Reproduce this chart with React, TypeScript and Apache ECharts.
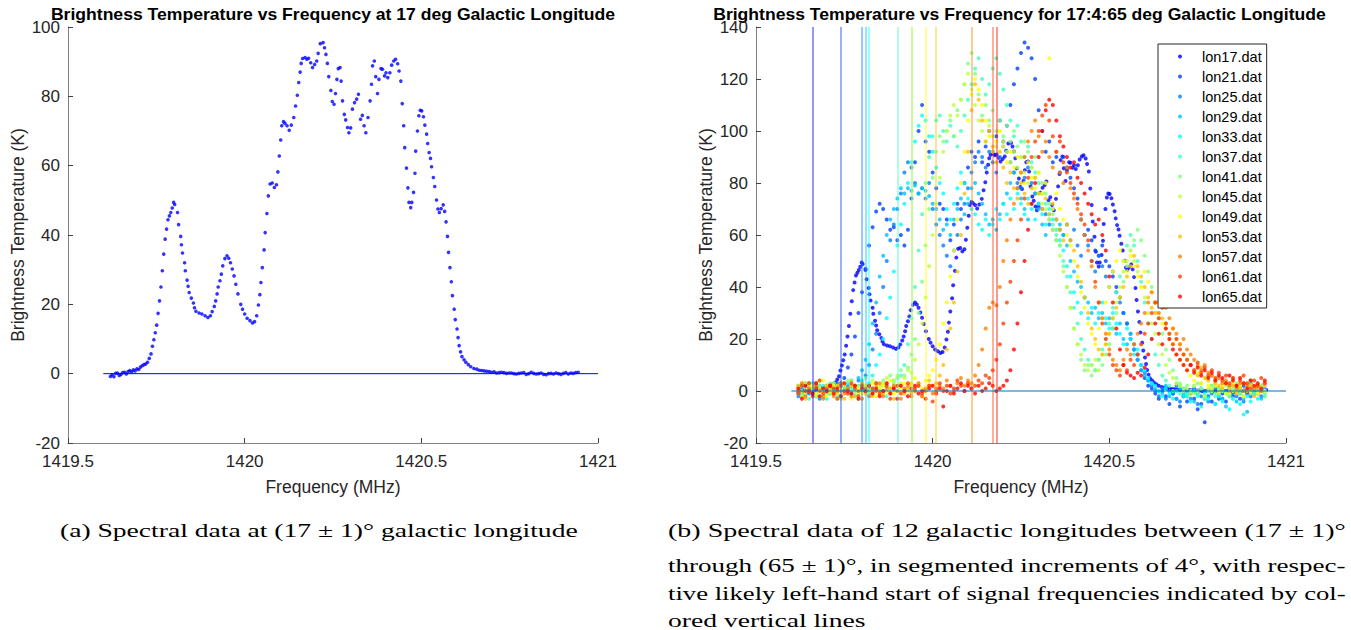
import { useEffect, useRef } from 'react';
import * as echarts from 'echarts';

// ---------------- DATA ----------------
// lon17 (used in panel a and as first series of panel b)
const lon17Freq = [
  1419.62, 1419.625, 1419.63, 1419.635, 1419.64, 1419.645, 1419.65, 1419.655, 1419.66, 1419.665,
  1419.67, 1419.675, 1419.68, 1419.685, 1419.69, 1419.695, 1419.7, 1419.705, 1419.71, 1419.715,
  1419.72, 1419.725, 1419.73,
  1419.735, 1419.739, 1419.743, 1419.747, 1419.751, 1419.755, 1419.759, 1419.763, 1419.767, 1419.771,
  1419.775, 1419.779, 1419.783, 1419.787, 1419.791, 1419.795, 1419.799, 1419.802,
  1419.81, 1419.813, 1419.819, 1419.821, 1419.824, 1419.83, 1419.832, 1419.837, 1419.84, 1419.843,
  1419.849, 1419.855, 1419.858, 1419.862, 1419.871, 1419.879, 1419.888, 1419.896, 1419.903, 1419.908,
  1419.914, 1419.918, 1419.922, 1419.925, 1419.93, 1419.934, 1419.938, 1419.944, 1419.95, 1419.955,
  1419.96, 1419.965, 1419.97, 1419.975, 1419.981, 1419.989, 1419.994, 1420.0, 1420.007, 1420.015,
  1420.022, 1420.028, 1420.034, 1420.039, 1420.043, 1420.046, 1420.05, 1420.055, 1420.058, 1420.063,
  1420.067, 1420.072, 1420.078, 1420.084, 1420.09, 1420.094, 1420.098, 1420.102, 1420.105, 1420.11,
  1420.114, 1420.12, 1420.126, 1420.132, 1420.139, 1420.144, 1420.149, 1420.153, 1420.157, 1420.16,
  1420.164, 1420.171, 1420.176, 1420.181, 1420.187, 1420.192, 1420.198, 1420.204, 1420.208, 1420.214,
  1420.222, 1420.226, 1420.23, 1420.234, 1420.238, 1420.244, 1420.248, 1420.253, 1420.257, 1420.261,
  1420.265, 1420.27, 1420.273, 1420.277, 1420.282, 1420.286, 1420.291, 1420.295, 1420.3, 1420.305,
  1420.311, 1420.317, 1420.322, 1420.328, 1420.333, 1420.338, 1420.343, 1420.349, 1420.355, 1420.359,
  1420.362, 1420.367, 1420.371, 1420.376, 1420.38, 1420.386, 1420.39, 1420.396, 1420.4, 1420.405,
  1420.411, 1420.416, 1420.422, 1420.427, 1420.433, 1420.437, 1420.442, 1420.446, 1420.45, 1420.453,
  1420.458, 1420.462, 1420.465, 1420.47, 1420.473, 1420.478, 1420.482, 1420.484, 1420.489, 1420.493,
  1420.497, 1420.501, 1420.506, 1420.51, 1420.515, 1420.518, 1420.522, 1420.526, 1420.529, 1420.534,
  1420.538, 1420.543, 1420.547, 1420.551, 1420.556, 1420.562, 1420.566, 1420.57, 1420.574, 1420.577,
  1420.581, 1420.585, 1420.588, 1420.593, 1420.596, 1420.601, 1420.604, 1420.607, 1420.611, 1420.615,
  1420.621, 1420.626, 1420.633, 1420.64, 1420.649, 1420.657,
  1420.664, 1420.671, 1420.678, 1420.685, 1420.692, 1420.699, 1420.706, 1420.713, 1420.72, 1420.727,
  1420.734, 1420.741, 1420.748, 1420.755, 1420.762, 1420.769, 1420.776, 1420.783, 1420.79, 1420.797,
  1420.804, 1420.811, 1420.818, 1420.825, 1420.832, 1420.839, 1420.846, 1420.853, 1420.86, 1420.867,
  1420.874, 1420.881, 1420.888, 1420.895, 1420.902, 1420.909, 1420.916, 1420.923, 1420.93, 1420.937,
  1420.944,
];
const lon17Temp = [
  -0.8, -0.3, -0.9, 0.1, 0.2, -0.5, -0.2, 0.3, 0.4, -0.1,
  0.6, 0.9, 0.5, 1.1, 0.8, 1.4, 1.2, 1.9, 2.3, 2.6,
  2.8, 3.3, 4.4,
  5.7, 7.9, 9.8, 11.8, 14.0, 17.4, 21.0, 25.0, 29.7, 34.5,
  38.8, 41.7, 44.4, 45.5, 46.5, 47.8, 49.4, 48.8,
  46.5, 43.0, 39.6, 37.2, 34.8, 32.0, 29.7, 27.0, 25.2, 23.4,
  21.8, 20.4, 19.0, 18.0, 17.5, 17.2, 16.7, 16.2, 16.7, 17.9,
  19.4, 21.0, 23.0, 25.0, 26.8, 28.7, 31.1, 33.2, 34.0, 33.3,
  32.0, 30.2, 28.2, 25.8, 23.0, 20.0, 18.6, 17.2, 16.0, 15.3,
  14.6, 15.0, 16.7, 19.8, 22.8, 26.3, 30.6, 35.7, 40.7, 46.2,
  51.3, 54.7, 55.0, 53.7, 54.5, 58.2, 62.8, 67.4, 71.5, 72.7,
  72.2, 71.5, 70.2, 71.7, 73.9, 77.2, 80.3, 84.0, 87.0, 89.5,
  90.9, 91.2, 90.7, 91.0, 89.7, 88.3, 89.2, 90.2, 92.4, 95.2,
  95.5, 94.0, 92.1, 89.5, 85.7, 81.7, 78.5, 77.7, 80.8, 84.9,
  88.0, 88.3, 84.4, 78.7, 74.8, 73.2, 71.0, 69.5, 70.9, 76.3,
  78.2, 79.2, 80.6, 73.4, 74.5, 71.5, 69.5, 73.9, 78.7, 83.5,
  88.8, 90.2, 85.7, 80.8, 84.9, 88.0, 87.8, 85.9, 86.8, 85.4,
  86.8, 89.0, 90.2, 90.7, 89.4, 87.3, 84.4, 77.9, 71.5, 65.2,
  59.3, 53.6, 49.4, 47.9, 49.4, 52.3, 57.8, 64.2, 70.0, 74.4,
  76.0, 75.8, 74.1, 71.7, 69.1, 66.4, 63.8, 62.1, 59.7, 56.6,
  54.0, 50.1, 47.5, 46.5, 47.6, 48.7, 46.8, 43.8, 39.6, 35.0,
  30.6, 26.5, 22.5, 18.6, 15.6, 12.9, 10.4, 8.1, 6.3, 4.9,
  4.0, 3.3, 2.6, 2.0, 1.5, 1.3,
  1.0, 0.9, 0.8, 0.7, 0.6, 0.4, 0.5, 0.2, 0.3, 0.4,
  0.3, 0.1, 0.2, 0.2, 0.0, -0.1, 0.1, 0.2, 0.3, -0.2,
  0.0, 0.4, 0.1, -0.1, 0.0, 0.2, -0.2, -0.3, 0.0, 0.1,
  -0.1, 0.2, 0.0, -0.2, 0.1, 0.3, -0.1, 0.2, 0.1, 0.3,
  0.4,
];

// channel frequencies shared by the other longitudes (MHz)
const channelFreq = [
  1419.62, 1419.63, 1419.64, 1419.65, 1419.66, 1419.67, 1419.68, 1419.69, 1419.7, 1419.71,
  1419.72, 1419.73, 1419.74, 1419.75, 1419.76, 1419.77, 1419.78, 1419.79, 1419.8, 1419.81,
  1419.82, 1419.83, 1419.84, 1419.85, 1419.86, 1419.87, 1419.88, 1419.89, 1419.9, 1419.91,
  1419.92, 1419.93, 1419.94, 1419.95, 1419.96, 1419.97, 1419.98, 1419.99, 1420.0, 1420.01,
  1420.02, 1420.03, 1420.04, 1420.05, 1420.06, 1420.07, 1420.08, 1420.09, 1420.1, 1420.11,
  1420.12, 1420.13, 1420.14, 1420.15, 1420.16, 1420.17, 1420.18, 1420.19, 1420.2, 1420.21,
  1420.22, 1420.23, 1420.24, 1420.25, 1420.26, 1420.27, 1420.28, 1420.29, 1420.3, 1420.31,
  1420.32, 1420.33, 1420.34, 1420.35, 1420.36, 1420.37, 1420.38, 1420.39, 1420.4, 1420.41,
  1420.42, 1420.43, 1420.44, 1420.45, 1420.46, 1420.47, 1420.48, 1420.49, 1420.5, 1420.51,
  1420.52, 1420.53, 1420.54, 1420.55, 1420.56, 1420.57, 1420.58, 1420.59, 1420.6, 1420.61,
  1420.62, 1420.63, 1420.64, 1420.65, 1420.66, 1420.67, 1420.68, 1420.69, 1420.7, 1420.71,
  1420.72, 1420.73, 1420.74, 1420.75, 1420.76, 1420.77, 1420.78, 1420.79, 1420.8, 1420.81,
  1420.82, 1420.83, 1420.84, 1420.85, 1420.86, 1420.87, 1420.88, 1420.89, 1420.9, 1420.91,
  1420.92, 1420.93, 1420.94,
];

const lon21Temp = [
  1, -2, 2, 0, -1, 3, 1, -2, 0, 2,
  1, -1, 3, 5, 9, 14, 21, 30, 38, 47,
  56, 63, 69, 72, 70, 66, 62, 63, 58, 60,
  56, 62, 74, 88, 100, 110, 96, 92, 84, 78,
  72, 70, 66, 58, 64, 72, 70, 80, 86, 92,
  90, 96, 88, 94, 100, 92, 98, 104, 96, 102,
  110, 118, 124, 130, 134, 132, 128, 120, 108, 100,
  92, 96, 88, 90, 84, 90, 86, 82, 78, 74,
  66, 60, 62, 58, 54, 52, 56, 50, 48, 44,
  40, 36, 30, 26, 20, 16, 12, 8, 5, 2,
  1, -1, -3, 0, -2, -5, -1, -3, -6, -2,
  -4, -1, -3, -7, -5, -12, -2, -4, 0, -3,
  -1, -4, 1, -2, 0, -3, 2, -1, -2, 1,
  -1, 2, 0,
];
const lon25Temp = [
  -2, 1, 3, -1, 0, 2, -3, 1, 2, -1,
  0, 3, -2, 1, 2, -1, 2, 4, 3, 6,
  10, 16, 22, 30, 40, 50, 58, 64, 70, 76,
  84, 88, 86, 80, 76, 78, 74, 80, 70, 64,
  60, 56, 52, 48, 54, 60, 66, 72, 78, 84,
  88, 92, 90, 86, 92, 88, 84, 90, 94, 92,
  88, 84, 80, 78, 82, 86, 80, 76, 72, 70,
  68, 64, 70, 66, 62, 60, 64, 58, 62, 56,
  52, 60, 56, 50, 46, 52, 48, 44, 40, 46,
  38, 34, 30, 26, 22, 18, 14, 10, 7, 4,
  2, 0, -2, 1, -3, 0, -1, 2, -4, -2,
  0, -3, 1, -5, -2, 0, -4, -1, 1, -2,
  -3, 0, 2, -1, -2, 1, -4, 0, 3, -1,
  1, -2, 0,
];
const lon29Temp = [
  2, -1, 0, 3, 1, -2, 2, 0, -1, 1,
  3, 0, -2, 2, 1, 4, 2, 5, 8, 12,
  18, 26, 34, 44, 52, 60, 66, 70, 74, 78,
  76, 78, 77, 79, 76, 78, 77, 75, 72, 70,
  66, 62, 64, 60, 66, 70, 74, 68, 72, 78,
  80, 76, 72, 68, 64, 66, 62, 68, 72, 76,
  80, 84, 78, 74, 70, 66, 72, 76, 70, 64,
  60, 66, 62, 58, 64, 60, 56, 50, 46, 42,
  40, 36, 34, 30, 32, 28, 30, 26, 28, 24,
  22, 26, 20, 18, 22, 16, 12, 8, 6, 4,
  3, 1, 0, -1, 2, -2, 0, -3, 1, -1,
  -2, 0, -4, -1, 1, -3, -2, 0, -5, -1,
  -3, -6, -2, 0, -4, -1, -3, -8, -2, 0,
  -1, -3, 1,
];
const lon33Temp = [
  0, 2, -2, 1, 3, -1, 0, 2, -3, 1,
  2, -1, 1, 0, 3, 1, -2, 2, 4, 1,
  3, 6, 10, 14, 20, 28, 36, 46, 56, 64,
  72, 80, 88, 96, 102, 106, 104, 98, 92, 86,
  80, 76, 70, 66, 72, 78, 84, 80, 74, 70,
  68, 64, 62, 66, 60, 64, 70, 66, 72, 68,
  74, 70, 76, 72, 68, 74, 70, 66, 72, 68,
  64, 70, 66, 62, 58, 54, 48, 44, 38, 34,
  30, 36, 28, 32, 26, 30, 34, 28, 24, 30,
  26, 22, 18, 24, 20, 14, 16, 10, 8, 5,
  3, 2, 0, -2, 1, -1, -3, 0, 2, -2,
  -1, -4, 0, -2, -6, -1, -3, 0, -5, -2,
  -4, -1, -7, -3, 0, -5, -9, -2, -4, -1,
  -3, 0, -2,
];
const lon37Temp = [
  -1, 2, 0, -3, 1, 3, -2, 0, 2, -1,
  1, -2, 3, 0, -1, 2, 1, -3, 0, 2,
  -1, 1, 3, 0, 2, -2, 1, 4, 2, 6,
  10, 18, 28, 40, 54, 68, 80, 90, 98, 104,
  106, 100, 96, 102, 98, 94, 100, 106, 112, 118,
  124, 128, 120, 114, 118, 124, 128, 122, 116, 110,
  104, 98, 102, 96, 90, 94, 88, 84, 80, 76,
  72, 68, 64, 60, 56, 50, 44, 38, 32, 26,
  20, 16, 12, 10, 8, 12, 16, 20, 26, 32,
  38, 44, 50, 56, 60, 56, 50, 42, 34, 26,
  20, 14, 10, 6, 4, 2, 0, 3, -1, 1,
  -2, 0, 2, -1, 1, -3, 0, 2, -2, 1,
  0, -1, 2, -3, 1, 0, -2, 1, 3, -1,
  0, 2, -1,
];
const lon41Temp = [
  2, -1, 1, 3, 0, -2, 2, 1, -1, 3,
  0, 2, -3, 1, 4, 0, -1, 2, 1, 5,
  2, 0, 3, 1, 4, 2, 6, 3, 5, 8,
  6, 9, 14, 20, 30, 42, 56, 70, 82, 92,
  98, 96, 100, 104, 98, 108, 112, 118, 126, 130,
  122, 114, 106, 110, 104, 108, 100, 104, 98, 102,
  96, 100, 94, 90, 96, 92, 86, 90, 84, 80,
  76, 72, 68, 62, 56, 48, 40, 32, 24, 18,
  12, 8, 10, 6, 8, 12, 10, 14, 18, 24,
  30, 36, 42, 48, 54, 58, 62, 58, 52, 46,
  40, 34, 28, 22, 16, 12, 8, 5, 3, 1,
  2, 0, -1, 3, 1, -2, 0, 2, -1, 1,
  0, 2, -2, 1, 3, -1, 0, 2, -1, 1,
  2, 0, -2,
];
const lon45Temp = [
  0, 3, -1, 2, 1, -2, 4, 0, 2, -1,
  3, 1, -2, 2, 0, 4, 1, -1, 3, 2,
  1, 4, 0, 2, 3, 5, 1, 4, 6, 3,
  5, 8, 7, 12, 18, 26, 36, 48, 60, 72,
  82, 92, 100, 106, 110, 106, 112, 118, 122, 116,
  110, 104, 100, 96, 102, 98, 94, 100, 96, 92,
  88, 92, 86, 90, 84, 80, 86, 82, 76, 72,
  70, 66, 62, 58, 52, 46, 40, 32, 24, 18,
  14, 10, 8, 10, 12, 8, 14, 18, 22, 28,
  34, 40, 46, 50, 54, 50, 46, 40, 36, 30,
  26, 22, 18, 14, 10, 7, 5, 3, 2, 0,
  1, -1, 2, 0, 3, -2, 1, 0, 2, -1,
  1, 3, -1, 0, 2, 1, -2, 3, 0, 1,
  -1, 2, 0,
];
const lon49Temp = [
  1, -2, 3, 0, 2, -1, 1, 4, -2, 0,
  2, -1, 1, 3, 0, -3, 2, 1, -1, 2,
  0, 3, -2, 1, 2, 0, 4, -1, 2, 1,
  3, 0, 2, 5, 3, 1, 4, 6, 8, 12,
  18, 26, 34, 44, 54, 66, 80, 92, 104, 114,
  120, 116, 110, 104, 98, 92, 96, 100, 94, 88,
  92, 86, 90, 84, 80, 88, 82, 78, 84, 76,
  80, 128, 70, 76, 70, 66, 60, 56, 50, 44,
  38, 32, 26, 22, 18, 24, 28, 34, 40, 46,
  50, 54, 50, 46, 52, 48, 44, 40, 46, 42,
  38, 34, 30, 26, 24, 20, 18, 14, 12, 10,
  8, 6, 4, 7, 3, 5, 2, 1, 3, 0,
  2, -1, 1, 3, 0, 2, -2, 1, 0, 2,
  -1, 1, 0,
];
const lon53Temp = [
  2, 0, -3, 1, -1, 3, 0, -2, 2, 1,
  -1, 2, 0, -3, 1, 2, -2, 0, 3, -1,
  1, -2, 2, 0, -1, 3, 1, -3, 0, 2,
  -1, 1, 3, 0, 2, -2, 1, 4, 2, 3,
  6, 10, 16, 24, 34, 46, 60, 76, 92, 108,
  118, 112, 104, 96, 100, 94, 88, 92, 86, 80,
  84, 78, 74, 80, 76, 72, 78, 82, 76, 70,
  74, 68, 72, 66, 62, 58, 64, 58, 54, 48,
  42, 36, 30, 24, 20, 16, 14, 18, 22, 28,
  32, 36, 40, 44, 48, 52, 48, 44, 40, 36,
  32, 30, 34, 28, 26, 22, 24, 20, 18, 14,
  12, 10, 8, 6, 9, 5, 4, 6, 3, 2,
  1, 3, 0, 2, -1, 1, 3, 0, 2, -2,
  1, 0, 2,
];
const lon57Temp = [
  0, 3, -2, 1, -1, 2, 0, -3, 1, 2,
  -2, 0, 3, -1, 1, -2, 2, 0, -3, 1,
  2, -1, 0, 3, -2, 1, -1, 2, 0, -3,
  1, 2, -1, 0, 3, -2, 1, 2, -1, 0,
  2, 1, 4, 2, 0, 3, 5, 2, 4, 3,
  6, 10, 16, 24, 32, 34, 33, 40, 50, 58,
  66, 72, 78, 84, 90, 96, 100, 104, 98, 92,
  96, 90, 86, 92, 84, 80, 86, 78, 74, 70,
  66, 60, 54, 48, 40, 34, 28, 22, 16, 12,
  10, 8, 12, 16, 14, 18, 22, 26, 30, 34,
  38, 34, 30, 36, 32, 28, 24, 22, 18, 20,
  16, 14, 12, 10, 8, 10, 7, 6, 4, 5,
  3, 4, 2, 5, 1, 3, 0, 2, 4, 1,
  2, 0, 3,
];
const lon61Temp = [
  -1, 2, 0, 3, -2, 1, 4, -1, 0, 2,
  1, -3, 2, 0, -1, 3, 1, -2, 2, 0,
  -2, 1, 3, -1, 0, 2, -3, 1, 2, -1,
  0, 3, -2, 1, 2, -1, 0, 2, -4, 1,
  3, 0, 2, -1, 1, 4, 2, 0, 3, 1,
  2, 4, 3, 6, 5, 8, 12, 18, 26, 34,
  42, 50, 58, 66, 74, 82, 90, 96, 100, 106,
  110, 104, 98, 92, 96, 88, 84, 80, 76, 72,
  68, 64, 58, 50, 42, 34, 26, 20, 14, 10,
  8, 6, 10, 8, 12, 10, 14, 18, 22, 26,
  30, 34, 28, 32, 26, 22, 18, 20, 16, 14,
  12, 10, 8, 11, 7, 9, 6, 8, 5, 7,
  4, 6, 3, 5, 2, 4, 6, 3, 1, 4,
  2, 5, 3,
];
const lon65Temp = [
  1, -3, 2, 0, -1, 3, -2, 1, 0, 2,
  -1, 1, -2, 3, 0, -1, 2, -3, 1, 0,
  2, -1, 1, -2, 0, 3, -1, 1, -3, 2,
  0, -2, 1, 2, -1, 0, -3, 1, 2, -1,
  1, -6, 0, 2, -1, 1, 3, 0, 2, 1,
  -1, 2, 0, 1, 3, 2, 0, 1, 2, 4,
  8, 16, 26, 38, 50, 62, 72, 80, 90, 100,
  108, 112, 110, 104, 98, 94, 90, 86, 88, 82,
  80, 76, 72, 68, 64, 66, 60, 54, 44, 34,
  24, 16, 10, 7, 6, 5, 7, 6, 9, 14,
  20, 26, 22, 18, 24, 20, 16, 14, 12, 10,
  8, 10, 7, 9, 6, 8, 5, 7, 4, 6,
  5, 3, 6, 4, 2, 5, 3, 1, 4, 2,
  3, 1, 4,
];

const longitudeNames = [
  'lon17.dat', 'lon21.dat', 'lon25.dat', 'lon29.dat', 'lon33.dat', 'lon37.dat', 'lon41.dat',
  'lon45.dat', 'lon49.dat', 'lon53.dat', 'lon57.dat', 'lon61.dat', 'lon65.dat',
];
const otherTemps = [
  lon21Temp, lon25Temp, lon29Temp, lon33Temp, lon37Temp, lon41Temp,
  lon45Temp, lon49Temp, lon53Temp, lon57Temp, lon61Temp, lon65Temp,
];
// likely left-hand start of signal (MHz)
const signalStart = [
  1419.657, 1419.745, 1419.804, 1419.808, 1419.823, 1419.905, 1419.940,
  1419.942, 1419.982, 1420.007, 1420.112, 1420.171, 1420.183,
];
const xTicks = { min: 1419.5, max: 1421, step: 0.5 };
const baselineRange = [1419.6, 1421];

// jet(13) colormap
const jetColors = [
  [0, 0, 1], [0, 0.25, 1], [0, 0.5, 1], [0, 0.75, 1], [0, 1, 1], [0.25, 1, 0.75], [0.5, 1, 0.5],
  [0.75, 1, 0.25], [1, 1, 0], [1, 0.75, 0], [1, 0.5, 0], [1, 0.25, 0], [1, 0, 0],
];

const titleA = 'Brightness Temperature vs Frequency at 17 deg Galactic Longitude';
const titleB = 'Brightness Temperature vs Frequency for 17:4:65 deg Galactic Longitude';
const captionA = '(a) Spectral data at (17 \u00b1 1)\u00b0 galactic longitude';
const captionB = [
  '(b) Spectral data of 12 galactic longitudes between (17 \u00b1 1)\u00b0',
  'through (65 \u00b1 1)\u00b0, in segmented increments of 4\u00b0, with respec-',
  'tive likely left-hand start of signal frequencies indicated by col-',
  'ored vertical lines',
];

// ---------------- HELPERS ----------------
const SANS = '"Liberation Sans", Arial, Helvetica, sans-serif';
const SERIF = '"Liberation Serif", "Times New Roman", serif';

function measure(text: string, font: string): number {
  const ctx = document.createElement('canvas').getContext('2d');
  if (!ctx) return 1;
  ctx.font = font;
  return ctx.measureText(text).width || 1;
}
const rgb = (c: number[], a = 1) =>
  `rgba(${Math.round(c[0] * 255)},${Math.round(c[1] * 255)},${Math.round(c[2] * 255)},${a})`;

function zip(xs: number[], ys: number[]) {
  return ys.map((y, i) => [xs[i], y]);
}

export default function App() {
  const ref = useRef<HTMLDivElement>(null);
  useEffect(() => {
    if (!ref.current) return;
    const chart = echarts.init(ref.current, undefined, { renderer: 'svg' });

    const axisX = (gridIndex: number) => ({
      type: 'value',
      gridIndex,
      min: xTicks.min,
      max: xTicks.max,
      interval: xTicks.step,
      name: 'Frequency (MHz)',
      nameLocation: 'middle',
      nameGap: 35,
      nameTextStyle: { color: '#262626', fontSize: 17.5, fontFamily: SANS },
      axisLine: { show: true, onZero: false, lineStyle: { color: '#808080', width: 1 } },
      axisTick: { show: true, inside: true, length: 5, lineStyle: { color: '#404040' } },
      axisLabel: {
        color: '#262626', fontSize: 17, fontFamily: SANS, margin: 10,
        formatter: (v: number) => String(v),
      },
      splitLine: { show: false },
    });
    const axisY = (gridIndex: number, max: number) => ({
      type: 'value',
      gridIndex,
      min: -20,
      max,
      interval: 20,
      name: 'Brightness Temperature (K)',
      nameLocation: 'middle',
      nameGap: 41,
      nameTextStyle: { color: '#262626', fontSize: 17.5, fontFamily: SANS },
      axisLine: { show: true, onZero: false, lineStyle: { color: '#808080', width: 1 } },
      axisTick: { show: true, inside: true, length: 5, lineStyle: { color: '#404040' } },
      axisLabel: { color: '#262626', fontSize: 17, fontFamily: SANS, margin: 8 },
      splitLine: { show: false },
    });

    const rightSeries: any[] = [];
    const allTemps = [lon17Temp, ...otherTemps];
    allTemps.forEach((temps, k) => {
      const xs = k === 0 ? lon17Freq : channelFreq;
      rightSeries.push({
        type: 'scatter',
        name: longitudeNames[k],
        xAxisIndex: 1,
        yAxisIndex: 1,
        data: zip(xs, temps),
        symbol: 'circle',
        symbolSize: 4,
        itemStyle: { color: rgb(jetColors[k]) },
        silent: true,
        markLine: {
          silent: true,
          symbol: ['none', 'none'],
          label: { show: false },
          lineStyle: { color: rgb(jetColors[k], 0.55), width: 1.5, type: 'solid' },
          data: [{ xAxis: signalStart[k] }],
        },
      });
    });

    const titleFont = `bold 16px ${SANS}`;
    const capSize = 19.5;
    const capFont = `${capSize}px ${SERIF}`;
    const capScaleA = 518 / measure(captionA, capFont);
    const capGraphics: any[] = [
      {
        type: 'text', x: 60, y: 530, scaleX: capScaleA,
        style: { text: captionA, fontSize: capSize, fontFamily: SERIF, fill: '#000', align: 'left', verticalAlign: 'middle' },
      },
    ];
    const capYs = [530, 565, 593, 620];
    captionB.forEach((line, i) => {
      const sx = i < 3 ? 678 / measure(line, capFont) : capScaleA;
      capGraphics.push({
        type: 'text', x: 668, y: capYs[i], scaleX: sx,
        style: { text: line, fontSize: capSize, fontFamily: SERIF, fill: '#000', align: 'left', verticalAlign: 'middle' },
      });
    });

    const option: any = {
      animation: false,
      textStyle: { fontFamily: SANS },
      grid: [
        { left: 68, top: 27, width: 530, height: 416 },
        { left: 756, top: 27, width: 530, height: 416 },
      ],
      xAxis: [axisX(0), axisX(1)],
      yAxis: [axisY(0, 100), axisY(1, 140)],
      legend: {
        data: longitudeNames,
        orient: 'vertical',
        left: 1158,
        top: 44,
        padding: [5, 5, 4, 20],
        itemGap: 5,
        itemWidth: 34,
        itemHeight: 4,
        backgroundColor: '#ffffff',
        borderColor: '#262626',
        borderWidth: 1,
        borderRadius: 0,
        selectedMode: false,
        textStyle: { fontSize: 14.5, color: '#000', fontFamily: SANS },
      },
      graphic: [
        {
          type: 'text', x: 333, y: 15, scaleX: 565 / measure(titleA, titleFont),
          style: { text: titleA, fontSize: 16, fontWeight: 'bold', fontFamily: SANS, fill: '#000', align: 'center', verticalAlign: 'middle' },
        },
        {
          type: 'text', x: 1019.5, y: 15, scaleX: 613 / measure(titleB, titleFont),
          style: { text: titleB, fontSize: 16, fontWeight: 'bold', fontFamily: SANS, fill: '#000', align: 'center', verticalAlign: 'middle' },
        },
        ...capGraphics,
      ],
      series: [
        {
          type: 'scatter',
          name: 'lon17 (a)',
          xAxisIndex: 0,
          yAxisIndex: 0,
          data: zip(lon17Freq, lon17Temp),
          symbol: 'circle',
          symbolSize: 3.6,
          itemStyle: { color: '#0000ff' },
          silent: true,
        },
        {
          type: 'line',
          name: 'zero (a)',
          xAxisIndex: 0,
          yAxisIndex: 0,
          data: [[baselineRange[0], 0], [baselineRange[1], 0]],
          showSymbol: false,
          symbol: 'none',
          lineStyle: { color: '#0000ff', width: 1 },
          silent: true,
          z: 5,
        },
        ...rightSeries,
        {
          type: 'line',
          name: 'zero (b)',
          xAxisIndex: 1,
          yAxisIndex: 1,
          data: [[baselineRange[0], 0], [baselineRange[1], 0]],
          showSymbol: false,
          symbol: 'none',
          lineStyle: { color: '#0072BD', width: 1.2 },
          silent: true,
          z: 5,
        },
      ],
    };
    chart.setOption(option);
    return () => chart.dispose();
  }, []);

  return (
    <div
      ref={ref}
      style={{ position: 'fixed', left: 0, top: 0, width: 1351, height: 630, background: '#fff' }}
    />
  );
}
